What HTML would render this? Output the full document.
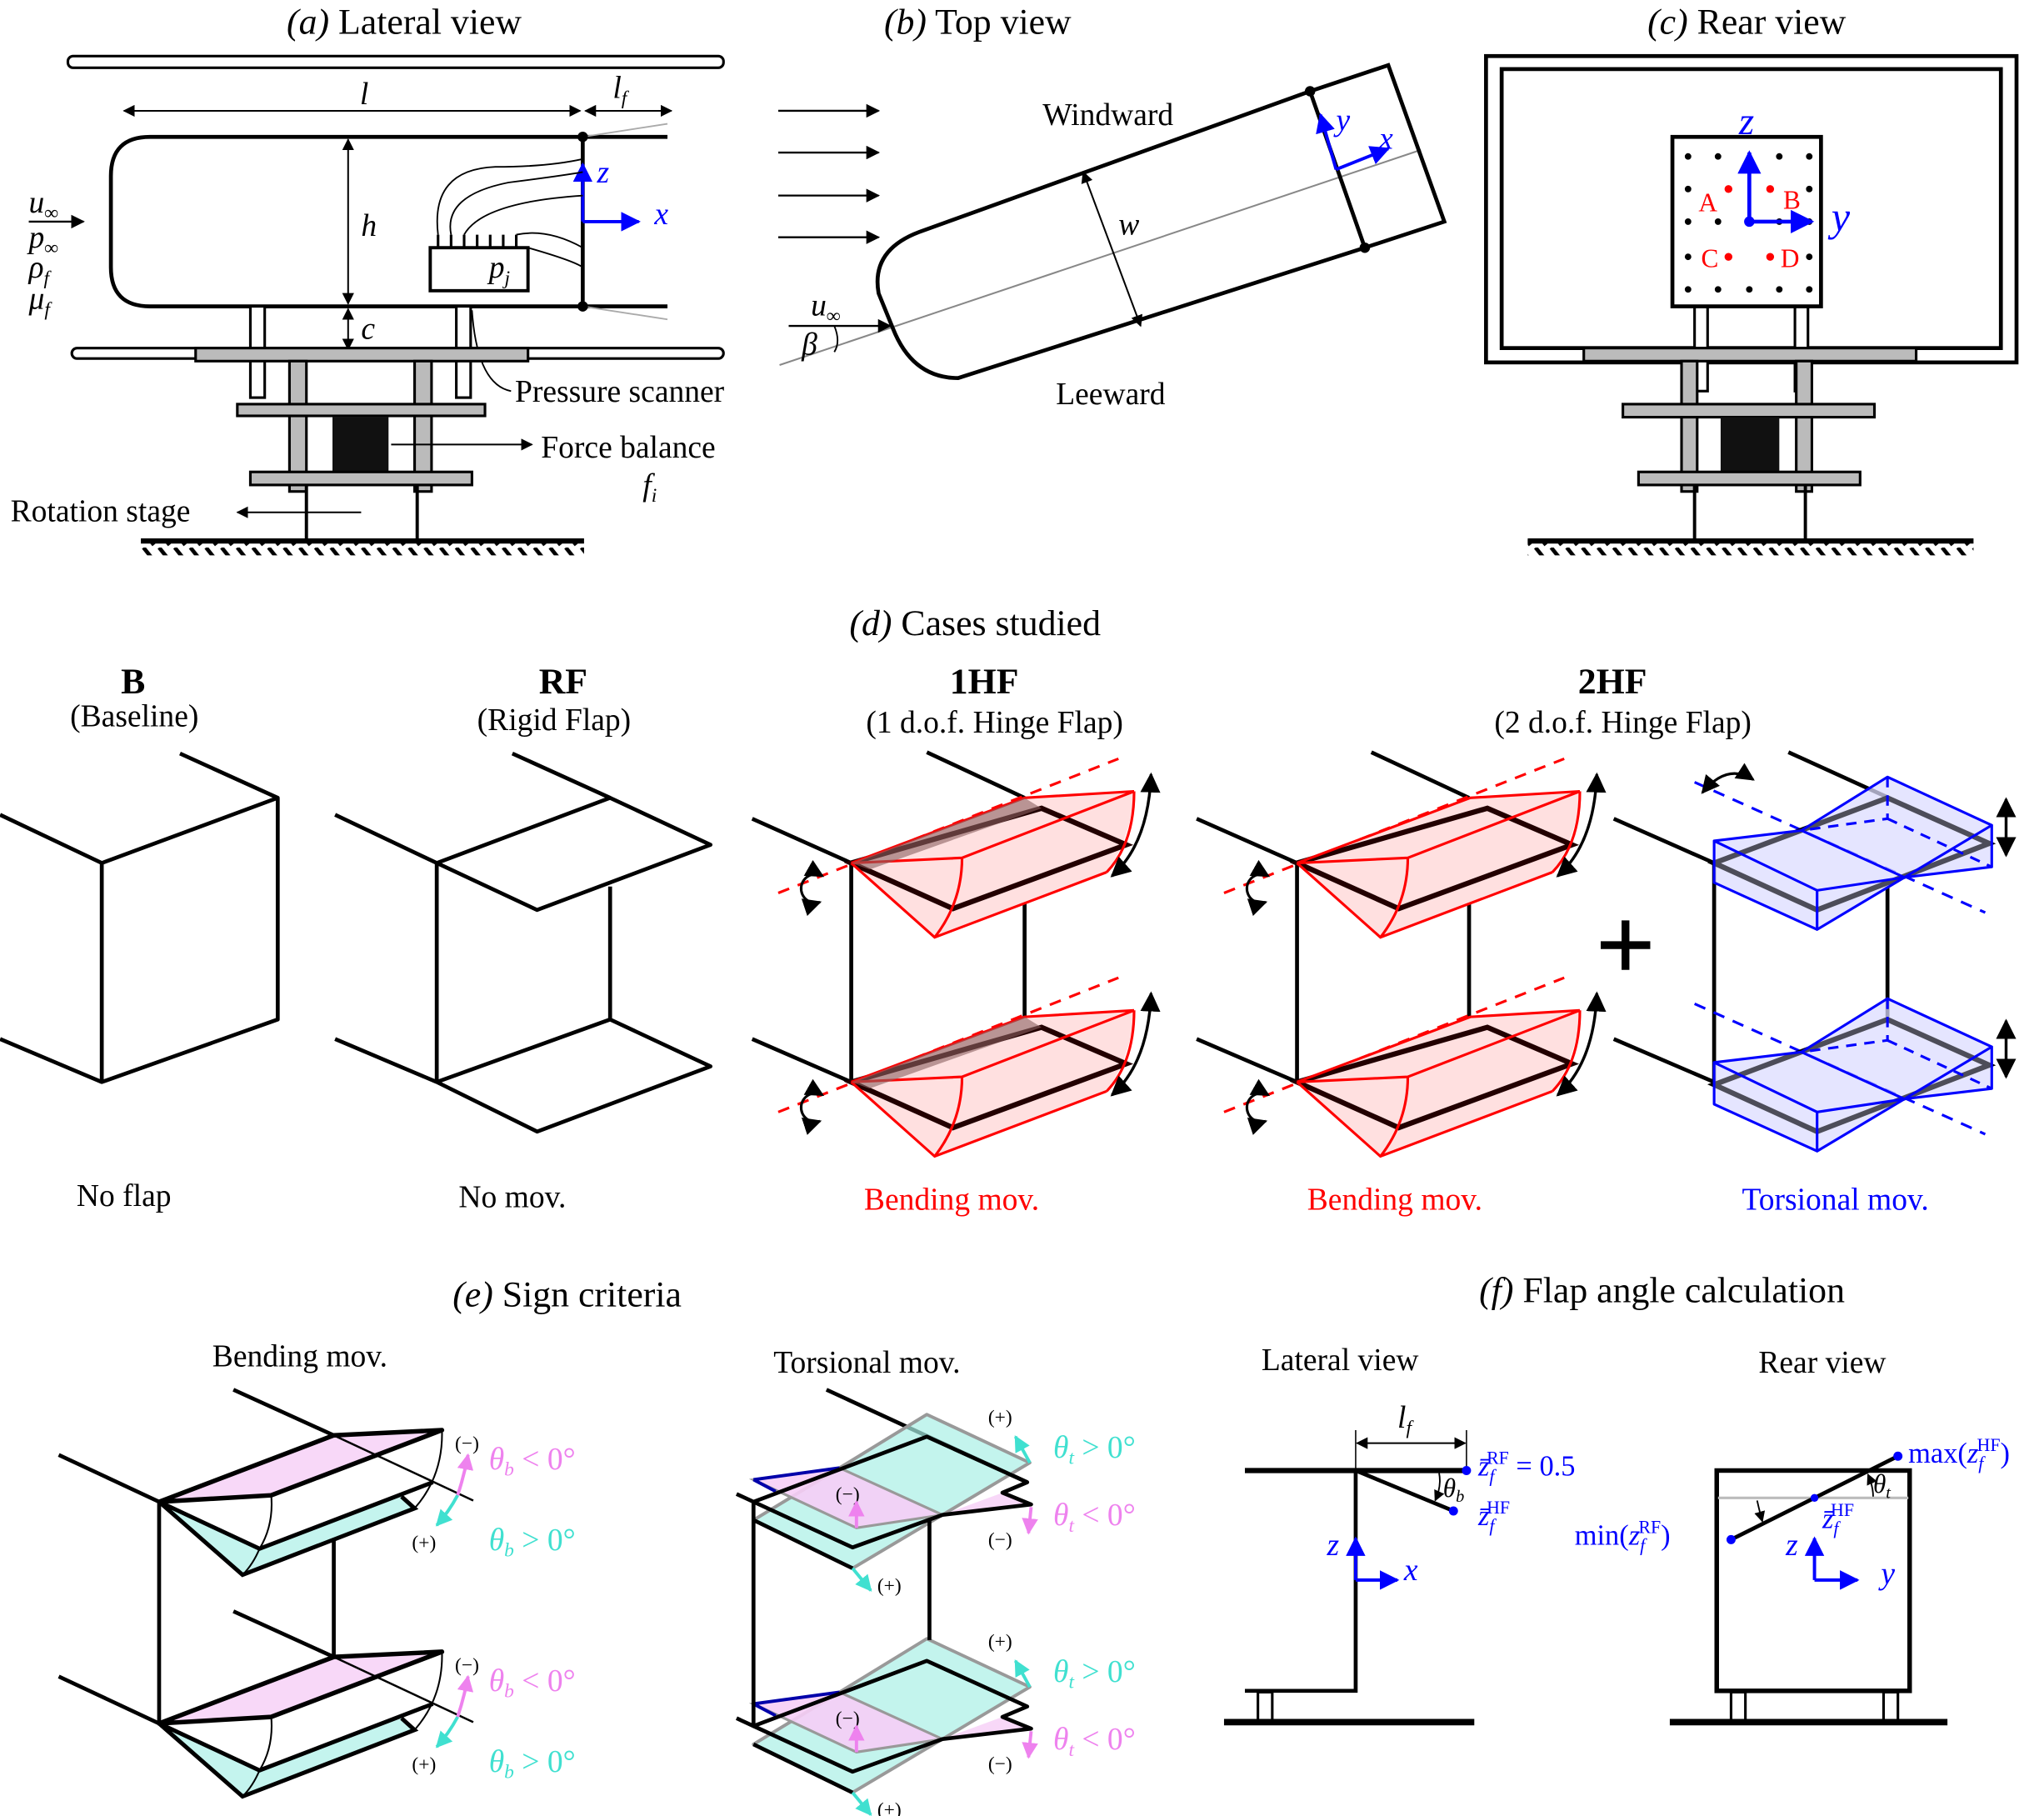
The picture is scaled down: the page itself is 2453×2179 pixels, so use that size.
<!DOCTYPE html>
<html><head><meta charset="utf-8">
<style>
html,body{margin:0;padding:0;background:#fff;}
svg{display:block;}
text{font-family:"Liberation Serif",serif;}
.t{font-size:28px;}
.m{font-size:24px;}
.s{font-size:16px;}
.i{font-style:italic;}
</style></head><body>
<svg width="2453" height="2179" viewBox="0 0 1568 1393" xmlns="http://www.w3.org/2000/svg">
<defs>
<marker id="ah" viewBox="0 0 10 10" refX="9" refY="5" markerWidth="7" markerHeight="7" orient="auto-start-reverse"><path d="M0,0 L10,5 L0,10 z" fill="#000"/></marker>
<marker id="ahb" viewBox="0 0 10 10" refX="9" refY="5" markerWidth="6" markerHeight="6" orient="auto-start-reverse"><path d="M0,0 L10,5 L0,10 z" fill="#00f"/></marker>
<marker id="ahp" viewBox="0 0 10 10" refX="9" refY="5" markerWidth="5" markerHeight="5" orient="auto-start-reverse"><path d="M0,0 L10,5 L0,10 z" fill="#ee82ee"/></marker>
<marker id="ahc" viewBox="0 0 10 10" refX="9" refY="5" markerWidth="5" markerHeight="5" orient="auto-start-reverse"><path d="M0,0 L10,5 L0,10 z" fill="#40e0d0"/></marker>
<pattern id="hatch" width="12" height="12" patternUnits="userSpaceOnUse"><path d="M2,0 L10,10" stroke="#000" stroke-width="3"/></pattern>

<g id="bend">
<line x1="-56" y1="23" x2="205" y2="-80" stroke="#f00" stroke-width="2" stroke-dasharray="9,7"/>
<path d="M0,0 L133,-50 L217,-55 Q215,-20 196,7 L64,57 Z" fill="#ffe0e0" stroke="none"/>
<path d="M0,0 L146,-42 L211,-14 L78,35 Z" fill="none" stroke="#200" stroke-width="4"/>
<path d="M0,0 L133,-50 L217,-55 M0,0 L85,-4 L217,-55 M0,0 L64,57 L196,7 M85,-4 Q85,30 64,57 M217,-55 Q217,-15 196,7" fill="none" stroke="#f00" stroke-width="2"/>
<path d="M-22,10 A11,11 0 1 0 -24,30" fill="none" stroke="#000" stroke-width="2" marker-start="url(#ah)" marker-end="url(#ah)"/>
<path d="M230,-68 Q228,-15 200,10" fill="none" stroke="#000" stroke-width="2.2" marker-start="url(#ah)" marker-end="url(#ah)"/>
</g>
<g id="dark"><path d="M0,0 L133,-50 L146,-42 L14,5 Z" fill="#8a6060" opacity="0.6"/></g>

<g id="tors">
<line x1="-15" y1="-62" x2="208" y2="38" stroke="#00f" stroke-width="2" stroke-dasharray="9,7"/>
<path d="M0,-17 L67,-25 L146,11 L79,21 Z M0,-17 L79,21 L79,51 L0,15 Z M79,21 L146,11 L79,51 Z M67,-25 L133,-66 L213,-29 L146,11 Z M213,-29 L213,3 L146,11 Z" fill="#dcdcff" fill-opacity="0.6" stroke="none"/>
<path d="M0,0 L133,-50 L211,-15 L79,36 Z" fill="none" stroke="#000" stroke-width="4"/>
<path d="M0,-17 L67,-25 L146,11 L79,21 Z M0,-17 L79,21 L79,51 L0,15 Z M79,21 L146,11 L79,51 Z M67,-25 L133,-66 L213,-29 L146,11 Z M213,-29 L213,3 L146,11 Z" fill="#dcdcff" fill-opacity="0.35" stroke="#00f" stroke-width="2" stroke-linejoin="round"/>
<path d="M133,-66 L133,-34 L67,-25 M133,-34 L213,3" fill="none" stroke="#00f" stroke-width="2" stroke-dasharray="8,6"/>
<line x1="224" y1="-49" x2="224" y2="-6" stroke="#000" stroke-width="2.2" marker-start="url(#ah)" marker-end="url(#ah)"/>
</g>

<g id="sb">
<line x1="-77" y1="-36" x2="0" y2="0" stroke="#000" stroke-width="3"/>
<line x1="57" y1="-86" x2="134" y2="-51" stroke="#000" stroke-width="3"/>
<path d="M0,0 L134,-51 L217,-55 L86,-5 Z" fill="#f8d8f8"/>
<path d="M0,0 L64,56 L196,5 L186,-4 L77,36 Z" fill="#c4f4ee"/>
<line x1="134" y1="-51" x2="241" y2="-1" stroke="#000" stroke-width="1.6"/>
<path d="M0,0 L134,-51 L217,-55 L86,-5 Z" fill="none" stroke="#000" stroke-width="3.5" stroke-linejoin="round"/>
<path d="M0,0 L77,36 L210,-15 M0,0 L64,56 L196,5 L186,-4" fill="none" stroke="#000" stroke-width="3.2"/>
<path d="M86,-5 Q88,18 77,36 Q72,48 64,56 M217,-55 Q218,-20 196,5" fill="none" stroke="#000" stroke-width="1.3"/>
<text x="227" y="-40" font-size="15">(−)</text>
<text x="194" y="36" font-size="15">(+)</text>
<text x="253" y="-25" class="m i" fill="#ee82ee">θ<tspan font-size="15" dy="5">b</tspan><tspan dy="-5" font-style="normal"> &lt; 0°</tspan></text>
<text x="253" y="37" class="m i" fill="#40e0d0">θ<tspan font-size="15" dy="5">b</tspan><tspan dy="-5" font-style="normal"> &gt; 0°</tspan></text>
<path d="M229,-5 Q234,-20 237,-36" fill="none" stroke="#ee82ee" stroke-width="2.5" marker-end="url(#ahp)"/>
<path d="M229,-5 Q222,8 213,18" fill="none" stroke="#40e0d0" stroke-width="2.5" marker-end="url(#ahc)"/>
</g>

<g id="st">
<path d="M578,1166 L644,1126 L711,1085 L790,1122 L723,1162 L654,1203 Z" fill="#aaf0e6" fill-opacity="0.7" stroke="#999" stroke-width="2.5" stroke-linejoin="round"/>
<path d="M578,1135 L644,1126 L723,1162 L657,1172 Z" fill="#f6cef6" fill-opacity="0.9" stroke="#999" stroke-width="2"/>
<path d="M769,1145 L791,1154 L723,1162 Z" fill="#f8d8f8"/>
<path d="M578,1135 L644,1126 M578,1135 L595,1144" stroke="#00a" stroke-width="2.5"/>
<path d="M578,1152 L711,1102 L788,1137 L769,1145 L791,1154 L723,1162 L654,1187 Z" fill="none" stroke="#000" stroke-width="3" stroke-linejoin="round"/>
<line x1="578" y1="1166" x2="654" y2="1203" stroke="#000" stroke-width="3"/>
<text x="641" y="1151" font-size="15">(−)</text>
<text x="758" y="1092" font-size="15">(+)</text>
<text x="758" y="1186" font-size="15">(−)</text>
<text x="673" y="1221" font-size="15">(+)</text>
<text x="808" y="1118" class="m i" fill="#40e0d0">θ<tspan font-size="15" dy="5">t</tspan><tspan dy="-5" font-style="normal"> &gt; 0°</tspan></text>
<text x="808" y="1170" class="m i" fill="#ee82ee">θ<tspan font-size="15" dy="5">t</tspan><tspan dy="-5" font-style="normal"> &lt; 0°</tspan></text>
<line x1="790" y1="1122" x2="779" y2="1102" stroke="#40e0d0" stroke-width="2.5" marker-end="url(#ahc)"/>
<line x1="657" y1="1172" x2="657" y2="1152" stroke="#ee82ee" stroke-width="2.5" marker-end="url(#ahp)"/>
<line x1="791" y1="1156" x2="789" y2="1176" stroke="#ee82ee" stroke-width="2.5" marker-end="url(#ahp)"/>
<line x1="654" y1="1203" x2="668" y2="1220" stroke="#40e0d0" stroke-width="2.5" marker-end="url(#ahc)"/>
</g>
</defs>

<!-- (a) -->
<text x="310" y="26" class="t" text-anchor="middle"><tspan class="i">(a)</tspan> Lateral view</text>
<rect x="52" y="43" width="503" height="9" rx="4" fill="none" stroke="#000" stroke-width="2"/>
<line x1="95" y1="85" x2="445" y2="85" stroke="#000" stroke-width="1.3" marker-start="url(#ah)" marker-end="url(#ah)"/>
<line x1="449" y1="85" x2="515" y2="85" stroke="#000" stroke-width="1.3" marker-start="url(#ah)" marker-end="url(#ah)"/>
<text x="276" y="80" class="m i">l</text>
<text x="470" y="75" class="m i">l<tspan font-size="15" dy="5">f</tspan></text>
<path d="M447,105 L115,105 Q85,105 85,135 L85,205 Q85,235 115,235 L447,235" fill="none" stroke="#000" stroke-width="3"/>
<line x1="447" y1="105" x2="512" y2="105" stroke="#000" stroke-width="3"/>
<line x1="447" y1="235" x2="512" y2="235" stroke="#000" stroke-width="3"/>
<path d="M447,105 Q480,100 512,95 M447,235 Q480,240 512,245" fill="none" stroke="#aaa" stroke-width="1.2"/>
<line x1="447" y1="105" x2="447" y2="235" stroke="#000" stroke-width="3"/>
<circle cx="447" cy="105" r="4"/><circle cx="447" cy="235" r="4"/>
<line x1="267" y1="107" x2="267" y2="233" stroke="#000" stroke-width="1.3" marker-start="url(#ah)" marker-end="url(#ah)"/>
<line x1="267" y1="237" x2="267" y2="268" stroke="#000" stroke-width="1.3" marker-start="url(#ah)" marker-end="url(#ah)"/>
<text x="277" y="181" class="m i">h</text>
<text x="277" y="260" class="m i">c</text>
<line x1="447" y1="170" x2="447" y2="126" stroke="#00f" stroke-width="2.5" marker-end="url(#ahb)"/>
<line x1="447" y1="170" x2="490" y2="170" stroke="#00f" stroke-width="2.5" marker-end="url(#ahb)"/>
<text x="458" y="140" class="m i" fill="#00f">z</text>
<text x="502" y="172" class="m i" fill="#00f">x</text>
<rect x="330" y="190" width="75" height="33" fill="#fff" stroke="#000" stroke-width="2.5"/>
<path d="M336,190v-10M346,190v-10M356,190v-10M366,190v-10M376,190v-10M386,190v-10M396,190v-10" stroke="#000" stroke-width="2"/>
<text x="375" y="213" class="m i">p<tspan font-size="15" dy="5">j</tspan></text>
<path d="M336,180 Q330,130 380,128 Q420,128 447,122 M346,180 Q340,150 390,140 Q430,135 447,132 M356,180 Q370,155 447,150 M396,180 Q420,175 447,190 M405,190 Q440,200 447,205" fill="none" stroke="#000" stroke-width="1.2"/>
<path d="M362,238 Q366,295 392,300" fill="none" stroke="#000" stroke-width="1.2"/>
<text x="395" y="308" class="m">Pressure scanner</text>
<rect x="192" y="235" width="11" height="70" fill="#fff" stroke="#000" stroke-width="2"/>
<rect x="350" y="235" width="11" height="70" fill="#fff" stroke="#000" stroke-width="2"/>
<rect x="55" y="267" width="500" height="8" rx="4" fill="none" stroke="#000" stroke-width="2"/>
<rect x="150" y="267" width="255" height="10" fill="#bbb" stroke="#000" stroke-width="2"/>
<rect x="222" y="277" width="13" height="100" fill="#bbb" stroke="#000" stroke-width="2"/>
<rect x="318" y="277" width="13" height="100" fill="#bbb" stroke="#000" stroke-width="2"/>
<rect x="182" y="310" width="190" height="9" fill="#bbb" stroke="#000" stroke-width="2"/>
<rect x="255" y="320" width="43" height="42" fill="#111"/>
<rect x="192" y="362" width="170" height="10" fill="#bbb" stroke="#000" stroke-width="2"/>
<line x1="235" y1="372" x2="235" y2="415" stroke="#000" stroke-width="2.5"/>
<line x1="320" y1="372" x2="320" y2="415" stroke="#000" stroke-width="2.5"/>
<rect x="108" y="414" width="340" height="12" fill="url(#hatch)"/>
<line x1="108" y1="415" x2="448" y2="415" stroke="#000" stroke-width="4"/>
<line x1="300" y1="341" x2="408" y2="341" stroke="#000" stroke-width="1.3" marker-end="url(#ah)"/>
<text x="415" y="351" class="m">Force balance</text>
<text x="493" y="380" class="m i">f<tspan font-size="15" dy="5">i</tspan></text>
<line x1="277" y1="393" x2="182" y2="393" stroke="#000" stroke-width="1.3" marker-end="url(#ah)"/>
<text x="8" y="400" class="m">Rotation stage</text>
<text x="22" y="163" class="m i">u<tspan font-size="15" dy="5">∞</tspan></text>
<line x1="22" y1="170" x2="64" y2="170" stroke="#000" stroke-width="1.5" marker-end="url(#ah)"/>
<text x="22" y="190" class="m i">p<tspan font-size="15" dy="5">∞</tspan></text>
<text x="22" y="213" class="m i">ρ<tspan font-size="15" dy="5">f</tspan></text>
<text x="22" y="237" class="m i">μ<tspan font-size="15" dy="5">f</tspan></text>

<!-- (b) -->
<text x="750" y="26" class="t" text-anchor="middle"><tspan class="i">(b)</tspan> Top view</text>
<g stroke="#000" stroke-width="1.5">
<line x1="597" y1="85" x2="674" y2="85" marker-end="url(#ah)"/>
<line x1="597" y1="117" x2="674" y2="117" marker-end="url(#ah)"/>
<line x1="597" y1="150" x2="674" y2="150" marker-end="url(#ah)"/>
<line x1="597" y1="182" x2="674" y2="182" marker-end="url(#ah)"/>
</g>
<line x1="598" y1="280" x2="1090" y2="115" stroke="#888" stroke-width="1.3"/>
<path d="M1005,70 L705,178 Q668,192 674,225 L685,252 Q700,290 735,290 L1047,190" fill="none" stroke="#000" stroke-width="3"/>
<path d="M1005,70 L1065,50 L1108,170 L1047,190 Z" fill="none" stroke="#000" stroke-width="3"/>
<circle cx="1005" cy="70" r="4"/><circle cx="1047" cy="190" r="4"/>
<line x1="831" y1="132" x2="875" y2="250" stroke="#000" stroke-width="1.3" marker-start="url(#ah)" marker-end="url(#ah)"/>
<text x="858" y="180" class="m i">w</text>
<line x1="1025" y1="130" x2="1013" y2="88" stroke="#00f" stroke-width="2.5" marker-end="url(#ahb)"/>
<line x1="1025" y1="130" x2="1065" y2="114" stroke="#00f" stroke-width="2.5" marker-end="url(#ahb)"/>
<text x="1025" y="100" class="m i" fill="#00f">y</text>
<text x="1058" y="114" class="m i" fill="#00f">x</text>
<text x="622" y="242" class="m i">u<tspan font-size="15" dy="5">∞</tspan></text>
<line x1="605" y1="250" x2="683" y2="250" stroke="#000" stroke-width="1.5" marker-end="url(#ah)"/>
<path d="M640,250 Q645,262 640,270" fill="none" stroke="#000" stroke-width="1.2"/>
<text x="615" y="272" class="m i">β</text>
<text x="850" y="96" class="m" text-anchor="middle">Windward</text>
<text x="852" y="310" class="m" text-anchor="middle">Leeward</text>

<!-- (c) -->
<text x="1340" y="26" class="t" text-anchor="middle"><tspan class="i">(c)</tspan> Rear view</text>
<rect x="1140" y="43" width="407" height="235" fill="none" stroke="#000" stroke-width="3"/>
<rect x="1152" y="53" width="383" height="214" fill="none" stroke="#000" stroke-width="3"/>
<rect x="1300" y="235" width="10" height="65" fill="#fff" stroke="#000" stroke-width="2"/>
<rect x="1377" y="235" width="10" height="65" fill="#fff" stroke="#000" stroke-width="2"/>
<rect x="1283" y="105" width="114" height="130" fill="#fff" stroke="#000" stroke-width="3"/>
<g fill="#000">
<circle cx="1295" cy="120" r="2.5"/><circle cx="1318" cy="120" r="2.5"/><circle cx="1365" cy="120" r="2.5"/><circle cx="1388" cy="120" r="2.5"/>
<circle cx="1295" cy="145" r="2.5"/><circle cx="1388" cy="145" r="2.5"/>
<circle cx="1295" cy="170" r="2.5"/><circle cx="1318" cy="170" r="2.5"/><circle cx="1365" cy="170" r="2.5"/><circle cx="1388" cy="170" r="2.5"/>
<circle cx="1295" cy="197" r="2.5"/><circle cx="1388" cy="197" r="2.5"/>
<circle cx="1295" cy="222" r="2.5"/><circle cx="1318" cy="222" r="2.5"/><circle cx="1342" cy="222" r="2.5"/><circle cx="1365" cy="222" r="2.5"/><circle cx="1388" cy="222" r="2.5"/>
</g>
<g fill="#f00"><circle cx="1326" cy="145" r="3"/><circle cx="1358" cy="145" r="3"/><circle cx="1326" cy="197" r="3"/><circle cx="1358" cy="197" r="3"/></g>
<text x="1303" y="162" font-size="20" fill="#f00">A</text>
<text x="1368" y="160" font-size="20" fill="#f00">B</text>
<text x="1305" y="205" font-size="20" fill="#f00">C</text>
<text x="1366" y="205" font-size="20" fill="#f00">D</text>
<line x1="1342" y1="170" x2="1342" y2="117" stroke="#00f" stroke-width="3" marker-end="url(#ahb)"/>
<line x1="1342" y1="170" x2="1390" y2="170" stroke="#00f" stroke-width="3" marker-end="url(#ahb)"/>
<circle cx="1342" cy="170" r="4" fill="#00f"/>
<text x="1334" y="103" font-size="30" class="i" fill="#00f">z</text>
<text x="1405" y="177" font-size="32" class="i" fill="#00f">y</text>
<rect x="1215" y="267" width="255" height="10" fill="#bbb" stroke="#000" stroke-width="2"/>
<rect x="1290" y="277" width="12" height="100" fill="#bbb" stroke="#000" stroke-width="2"/>
<rect x="1378" y="277" width="12" height="100" fill="#bbb" stroke="#000" stroke-width="2"/>
<rect x="1245" y="310" width="193" height="10" fill="#bbb" stroke="#000" stroke-width="2"/>
<rect x="1320" y="320" width="45" height="42" fill="#111"/>
<rect x="1257" y="362" width="170" height="10" fill="#bbb" stroke="#000" stroke-width="2"/>
<line x1="1300" y1="372" x2="1300" y2="415" stroke="#000" stroke-width="2.5"/>
<line x1="1385" y1="372" x2="1385" y2="415" stroke="#000" stroke-width="2.5"/>
<rect x="1172" y="414" width="342" height="12" fill="url(#hatch)"/>
<line x1="1172" y1="415" x2="1514" y2="415" stroke="#000" stroke-width="4"/>

<!-- (d) -->
<text x="748" y="487" class="t" text-anchor="middle"><tspan class="i">(d)</tspan> Cases studied</text>
<text x="102" y="532" font-size="28" font-weight="bold" text-anchor="middle">B</text>
<text x="103" y="557" class="m" text-anchor="middle">(Baseline)</text>
<text x="432" y="532" font-size="28" font-weight="bold" text-anchor="middle">RF</text>
<text x="425" y="560" class="m" text-anchor="middle">(Rigid Flap)</text>
<text x="755" y="532" font-size="28" font-weight="bold" text-anchor="middle">1HF</text>
<text x="763" y="562" class="m" text-anchor="middle">(1 d.o.f.  Hinge Flap)</text>
<text x="1237" y="532" font-size="28" font-weight="bold" text-anchor="middle">2HF</text>
<text x="1245" y="562" class="m" text-anchor="middle">(2 d.o.f.  Hinge Flap)</text>

<g fill="none" stroke="#000" stroke-width="3" stroke-linejoin="round">
<path d="M0,625 L78,662 L213,612 L138,578 M78,662 L78,830 L213,782 L213,612 M0,797 L78,830"/>
<path d="M257,625 L335,662 L468,612 L393,578 M335,662 L412,698 L545,648 L468,612 M335,662 L335,830 L468,782 L468,680 M257,797 L335,830 L412,868 L545,818 L468,782"/>
<path d="M577,628 L653,662 M711,577 L786,612 M653,662 L653,830 M786,678 L786,780 M577,797 L653,830"/>
<path d="M918,628 L995,662 M1052,577 L1127,612 M995,662 L995,830 M1127,678 L1127,780 M918,797 L995,830"/>
<path d="M1238,628 L1315,662 M1372,577 L1449,612 M1315,662 L1315,830 M1448,680 L1448,780 M1238,797 L1315,830"/>
</g>
<use href="#bend" x="653" y="662"/><use href="#dark" x="653" y="662"/>
<use href="#bend" x="653" y="830"/><use href="#dark" x="653" y="830"/>
<use href="#bend" x="995" y="662"/>
<use href="#bend" x="995" y="830"/>
<use href="#tors" x="1315" y="662"/>
<use href="#tors" x="1315" y="832"/>
<path d="M1306,608 Q1325,585 1345,598" fill="none" stroke="#000" stroke-width="2" marker-start="url(#ah)" marker-end="url(#ah)"/>
<path d="M1228,725 h38 M1247,706 v38" stroke="#000" stroke-width="6"/>
<text x="95" y="925" class="m" text-anchor="middle">No flap</text>
<text x="393" y="926" class="m" text-anchor="middle">No mov.</text>
<text x="730" y="928" class="m" text-anchor="middle" fill="#f00">Bending mov.</text>
<text x="1070" y="928" class="m" text-anchor="middle" fill="#f00">Bending mov.</text>
<text x="1408" y="928" class="m" text-anchor="middle" fill="#00f">Torsional mov.</text>

<!-- (e) -->
<text x="435" y="1002" class="t" text-anchor="middle"><tspan class="i">(e)</tspan> Sign criteria</text>
<text x="230" y="1048" class="m" text-anchor="middle">Bending mov.</text>
<text x="665" y="1053" class="m" text-anchor="middle">Torsional mov.</text>
<use href="#sb" x="122" y="1152"/>
<use href="#sb" x="122" y="1322"/>
<g stroke="#000" stroke-width="3"><line x1="122" y1="1152" x2="122" y2="1322"/><line x1="256" y1="1181" x2="256" y2="1270"/></g>
<line x1="634" y1="1066" x2="788" y2="1137" stroke="#000" stroke-width="3"/>
<use href="#st"/>
<use href="#st" y="172"/>
<g stroke="#000" stroke-width="3"><line x1="578" y1="1152" x2="578" y2="1324"/><line x1="713" y1="1165" x2="713" y2="1258"/><line x1="565" y1="1146" x2="578" y2="1152"/><line x1="565" y1="1318" x2="578" y2="1324"/></g>

<!-- (f) -->
<text x="1275" y="999" class="t" text-anchor="middle"><tspan class="i">(f)</tspan> Flap angle calculation</text>
<text x="1028" y="1051" class="m" text-anchor="middle">Lateral view</text>
<text x="1398" y="1053" class="m" text-anchor="middle">Rear view</text>
<g stroke="#000" fill="none">
<path d="M955,1128 L1125,1128" stroke-width="4"/>
<path d="M1040,1128 L1040,1297 L955,1297" stroke-width="3"/>
<line x1="1040" y1="1128" x2="1115" y2="1159" stroke-width="3"/>
<path d="M1040,1097 V1128 M1125,1097 V1128" stroke-width="1"/>
<line x1="1041" y1="1107" x2="1124" y2="1107" stroke-width="1.3" marker-start="url(#ah)" marker-end="url(#ah)"/>
<path d="M1104,1130 Q1106,1140 1101,1151" stroke-width="1.2" marker-end="url(#ah)"/>
<rect x="965" y="1298" width="11" height="22" stroke-width="2"/>
<line x1="939" y1="1321" x2="1131" y2="1321" stroke-width="5"/>
<rect x="1317" y="1128" width="148" height="169" stroke-width="3.5"/>
<line x1="1318" y1="1149" x2="1464" y2="1149" stroke="#bbb" stroke-width="2"/>
<line x1="1328" y1="1181" x2="1456" y2="1117" stroke-width="3"/>
<path d="M1348,1151 Q1350,1160 1352,1167" stroke-width="1.2" marker-end="url(#ah)"/>
<path d="M1437,1148 Q1437,1140 1433,1131" stroke-width="1.2" marker-end="url(#ah)"/>
<rect x="1328" y="1298" width="11" height="22" stroke-width="2"/>
<rect x="1445" y="1298" width="11" height="22" stroke-width="2"/>
<line x1="1281" y1="1321" x2="1494" y2="1321" stroke-width="5"/>
</g>
<g fill="#00f"><circle cx="1125" cy="1128" r="3.5"/><circle cx="1115" cy="1159" r="3.5"/><circle cx="1328" cy="1181" r="3.5"/><circle cx="1456" cy="1117" r="3.5"/><circle cx="1392" cy="1149" r="3"/></g>
<text x="1072" y="1095" class="m i">l<tspan font-size="15" dy="5">f</tspan></text>
<text x="1107" y="1148" font-size="20" class="i">θ<tspan font-size="13" dy="4">b</tspan></text>
<text x="1134" y="1132" font-size="22" class="i" fill="#00f">z̄<tspan font-size="14" dy="5">f</tspan><tspan font-size="14" font-style="normal" dx="-6" dy="-14">RF</tspan><tspan font-style="normal" dy="9"> = 0.5</tspan></text>
<text x="1134" y="1170" font-size="22" class="i" fill="#00f">z̄<tspan font-size="14" dy="5">f</tspan><tspan font-size="14" font-style="normal" dx="-6" dy="-14">HF</tspan></text>
<line x1="1040" y1="1212" x2="1040" y2="1180" stroke="#00f" stroke-width="2.5" marker-end="url(#ahb)"/>
<line x1="1040" y1="1212" x2="1072" y2="1212" stroke="#00f" stroke-width="2.5" marker-end="url(#ahb)"/>
<text x="1018" y="1193" class="m i" fill="#00f">z</text>
<text x="1077" y="1212" class="m i" fill="#00f">x</text>
<text x="1464" y="1122" font-size="22" fill="#00f">max(<tspan class="i">z</tspan><tspan font-size="14" class="i" dy="5">f</tspan><tspan font-size="14" dx="-5" dy="-14">HF</tspan><tspan dy="9">)</tspan></text>
<text x="1208" y="1185" font-size="22" fill="#00f">min(<tspan class="i">z</tspan><tspan font-size="14" class="i" dy="5">f</tspan><tspan font-size="14" dx="-5" dy="-14">RF</tspan><tspan dy="9">)</tspan></text>
<text x="1437" y="1145" font-size="20" class="i">θ<tspan font-size="13" dy="4">t</tspan></text>
<text x="1398" y="1172" font-size="22" class="i" fill="#00f">z̄<tspan font-size="14" dy="5">f</tspan><tspan font-size="14" font-style="normal" dx="-6" dy="-14">HF</tspan></text>
<line x1="1392" y1="1212" x2="1392" y2="1180" stroke="#00f" stroke-width="2.5" marker-end="url(#ahb)"/>
<line x1="1392" y1="1212" x2="1425" y2="1212" stroke="#00f" stroke-width="2.5" marker-end="url(#ahb)"/>
<text x="1370" y="1193" class="m i" fill="#00f">z</text>
<text x="1443" y="1215" class="m i" fill="#00f">y</text>
</svg>
</body></html>
